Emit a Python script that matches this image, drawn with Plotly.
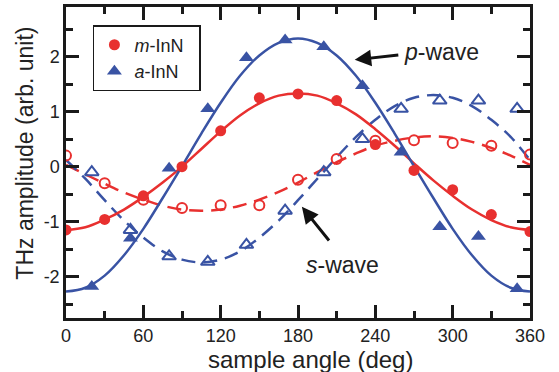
import plotly.graph_objects as go

# ---- data ----
angle_m = [0, 30, 60, 90, 120, 150, 180, 210, 240, 270, 300, 330, 360]
m_p = [-1.15, -0.96, -0.53, 0.0, 0.65, 1.25, 1.32, 1.2, 0.4, -0.07, -0.42, -0.87, -1.18]
m_s = [0.2, -0.3, -0.6, -0.75, -0.7, -0.7, -0.24, 0.14, 0.47, 0.48, 0.43, 0.38, 0.22]

angle_a = [20, 50, 80, 110, 140, 170, 200, 230, 260, 290, 320, 350]
a_p = [-2.18, -1.3, -0.03, 1.05, 1.98, 2.3, 2.18, 1.47, 0.26, -1.09, -1.27, -2.22]
a_s = [-0.1, -1.15, -1.63, -1.73, -1.42, -0.8, -0.1, 0.5, 1.05, 1.2, 1.2, 1.05]

# fitted curves (read at 15 degree steps)
fit_angle = [0, 15, 30, 45, 60, 75, 90, 105, 120, 135, 150, 165, 180,
             195, 210, 225, 240, 255, 270, 285, 300, 315, 330, 345, 360]
fit_m_p = [-1.15, -1.1, -0.96, -0.78, -0.55, -0.29, 0.0, 0.32, 0.64, 0.93, 1.15, 1.29, 1.33,
           1.29, 1.15, 0.95, 0.68, 0.38, 0.06, -0.25, -0.53, -0.78, -0.97, -1.1, -1.15]
fit_a_p = [-2.27, -2.2, -1.98, -1.61, -1.13, -0.57, 0.01, 0.6, 1.16, 1.65, 2.02, 2.25, 2.33,
           2.25, 2.02, 1.65, 1.16, 0.6, 0.01, -0.57, -1.13, -1.61, -1.98, -2.2, -2.27]
fit_m_s = [0.03, -0.14, -0.31, -0.47, -0.6, -0.71, -0.78, -0.8, -0.78, -0.71, -0.6, -0.46, -0.29,
           -0.1, 0.08, 0.24, 0.38, 0.47, 0.53, 0.55, 0.52, 0.45, 0.34, 0.2, 0.03]
fit_a_s = [0.12, -0.22, -0.61, -0.98, -1.29, -1.54, -1.69, -1.74, -1.69, -1.54, -1.29, -0.98, -0.61,
           -0.22, 0.17, 0.54, 0.85, 1.1, 1.25, 1.3, 1.25, 1.1, 0.85, 0.54, 0.12]

x_ticks = [0, 60, 120, 180, 240, 300, 360]
y_ticks = [-2, -1, 0, 1, 2]

RED = "#e8302f"
BLUE = "#3953a4"
FONT = "Liberation Sans, Arial, sans-serif"
TXT = "#222222"

fig = go.Figure()

# fit lines
fig.add_trace(go.Scatter(x=fit_angle, y=fit_m_s, mode="lines", line=dict(color=RED, width=2.5, dash="14px,8px", shape="spline"), showlegend=False))
fig.add_trace(go.Scatter(x=fit_angle, y=fit_a_s, mode="lines", line=dict(color=BLUE, width=2.5, dash="14px,8px", shape="spline"), showlegend=False))
fig.add_trace(go.Scatter(x=fit_angle, y=fit_m_p, mode="lines", line=dict(color=RED, width=2.5, shape="spline"), showlegend=False))
fig.add_trace(go.Scatter(x=fit_angle, y=fit_a_p, mode="lines", line=dict(color=BLUE, width=2.5, shape="spline"), showlegend=False))

# data points
fig.add_trace(go.Scatter(x=angle_m, y=m_s, mode="markers", showlegend=False,
                         marker=dict(symbol="circle-open", size=10, color=RED, line=dict(width=2, color=RED))))
fig.add_trace(go.Scatter(x=angle_a, y=a_s, mode="markers", showlegend=False,
                         marker=dict(symbol="triangle-up-open", size=12, color=BLUE, line=dict(width=2, color=BLUE))))
fig.add_trace(go.Scatter(x=angle_m, y=m_p, mode="markers", name="<i>m</i>-InN\u00a0\u00a0",
                         marker=dict(symbol="circle", size=11, color=RED)))
fig.add_trace(go.Scatter(x=angle_a, y=a_p, mode="markers", name="<i>a</i>-InN\u00a0\u00a0",
                         marker=dict(symbol="triangle-up", size=13, color=BLUE)))

# annotations
fig.add_annotation(x=224, y=1.94, ax=259, ay=2.03, axref="x", ayref="y", xref="x", yref="y",
                   text="", showarrow=True, arrowhead=2, arrowsize=1.1, arrowwidth=3, arrowcolor="#111111")
fig.add_annotation(x=260.5, y=2.08, xref="x", yref="y", xanchor="left", yanchor="middle",
                   text="<i>p</i>-wave", showarrow=False, font=dict(family=FONT, size=23, color=TXT))
fig.add_annotation(x=183, y=-0.73, ax=205, ay=-1.37, axref="x", ayref="y", xref="x", yref="y",
                   text="", showarrow=True, arrowhead=2, arrowsize=1.1, arrowwidth=3, arrowcolor="#111111")
fig.add_annotation(x=185, y=-1.79, xref="x", yref="y", xanchor="left", yanchor="middle",
                   text="<i>s</i>-wave", showarrow=False, font=dict(family=FONT, size=23, color=TXT))

# axis titles
fig.add_annotation(x=0.526, y=-0.135, xref="paper", yref="paper", xanchor="center", yanchor="middle",
                   text="sample angle (deg)", showarrow=False, font=dict(family=FONT, size=24, color=TXT))
fig.add_annotation(x=-0.088, y=0.529, xref="paper", yref="paper", xanchor="center", yanchor="middle",
                   text="THz amplitude (arb. unit)", textangle=-90, showarrow=False,
                   font=dict(family=FONT, size=23, color=TXT))

axis_common = dict(
    showgrid=False, zeroline=False, showline=True, linewidth=2.5, linecolor="#1a1a1a",
    mirror="ticks", ticks="inside", ticklen=13, tickwidth=2.5, tickcolor="#1a1a1a",
    tickfont=dict(family=FONT, size=18, color=TXT),
)

fig.update_xaxes(range=[0, 360], tickmode="array", tickvals=x_ticks, ticktext=[str(v) for v in x_ticks],
                 minor=dict(tickmode="linear", tick0=0, dtick=30, ticks="inside", ticklen=7, tickwidth=2.5, tickcolor="#1a1a1a"),
                 **axis_common)
fig.update_yaxes(range=[-2.75, 2.9], tickmode="array", tickvals=y_ticks, ticktext=[str(v) for v in y_ticks],
                 minor=dict(tickmode="linear", tick0=0, dtick=0.5, ticks="inside", ticklen=7, tickwidth=2.5, tickcolor="#1a1a1a"),
                 **axis_common)

fig.update_layout(
    width=559, height=372,
    margin=dict(l=66, r=29, t=7, b=54, autoexpand=False),
    plot_bgcolor="white", paper_bgcolor="white",
    font=dict(family=FONT, color=TXT),
    legend=dict(x=0.058, y=0.942, xanchor="left", yanchor="top",
                bordercolor="#1a1a1a", borderwidth=1.5, bgcolor="white",
                font=dict(family=FONT, size=18, color=TXT),
                itemwidth=30, tracegroupgap=0),
)

fig.write_html("out.html", config={"displayModeBar": False},
               post_script="document.body.style.margin='0';")
